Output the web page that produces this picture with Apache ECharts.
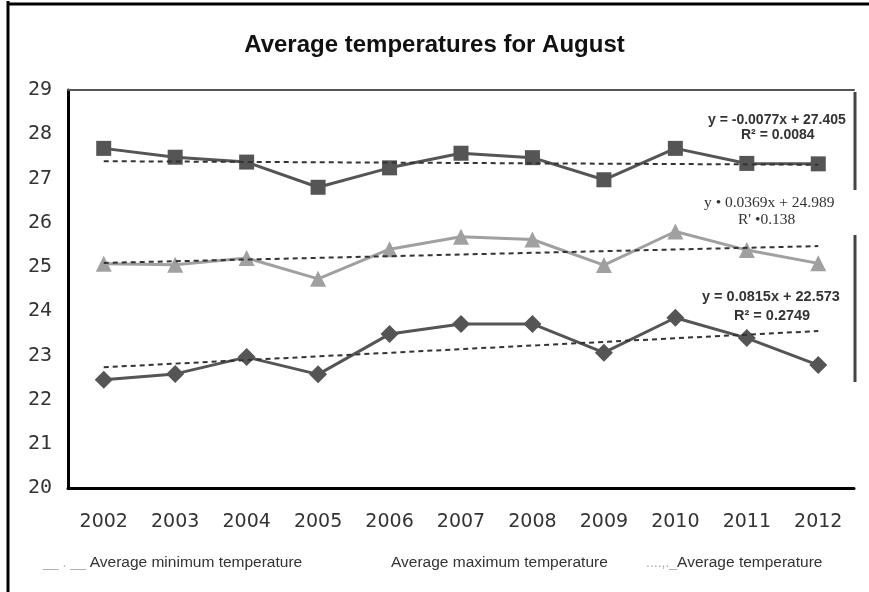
<!DOCTYPE html>
<html>
<head>
<meta charset="utf-8">
<script src="https://cdn.jsdelivr.net/npm/echarts@6/dist/echarts.min.js"></script>
<style>
html,body{margin:0;padding:0;background:#fff;}
#chart{width:869px;height:592px;}
</style>
</head>
<body>
<div id="chart"></div>
<script>
var years = ['2002','2003','2004','2005','2006','2007','2008','2009','2010','2011','2012'];
var maxTemp = [27.68, 27.48, 27.37, 26.80, 27.24, 27.57, 27.47, 26.97, 27.68, 27.34, 27.33];
var avgTemp = [25.07, 25.05, 25.20, 24.73, 25.40, 25.68, 25.62, 25.04, 25.80, 25.38, 25.08];
var minTemp = [22.45, 22.58, 22.96, 22.57, 23.48, 23.71, 23.71, 23.06, 23.85, 23.39, 22.78];
var maxTrend = [27.39, null, null, null, null, null, null, null, null, null, 27.31];
var avgTrend = [25.09, null, null, null, null, null, null, null, null, null, 25.47];
var minTrend = [22.73, null, null, null, null, null, null, null, null, null, 23.55];
var yTicks = {min: 20, max: 29, step: 1};
var names = {
  min: 'Average minimum temperature',
  max: 'Average maximum temperature',
  avg: 'Average temperature'
};
var legendPrefix = {};
legendPrefix[names.min] = '__ . __ ';
legendPrefix[names.max] = '';
legendPrefix[names.avg] = '....,._';
var eqMax = ['y = -0.0077x + 27.405', 'R\u00B2 = 0.0084'];
var eqAvg = ['y \u2022 0.0369x + 24.989', "R' \u20220.138"];
var eqMin = ['y = 0.0815x + 22.573', 'R\u00B2 = 0.2749'];

var chart = echarts.init(document.getElementById('chart'), null, {renderer: 'canvas'});

function legendFmt(n) {
  var p = legendPrefix[n];
  return (p ? '{p|' + p + '}' : '') + '{t|' + n + '}';
}
var legendRich = {
  p: {color: '#aaa', fontSize: 14, fontFamily: 'Liberation Sans'},
  t: {color: '#333', fontSize: 15.5, fontFamily: 'Liberation Sans'}
};
function mkLegend(name, left) {
  return {
    data: [{name: name, icon: 'none'}],
    left: left, top: 555,
    itemWidth: 0, itemHeight: 0, itemGap: 0,
    padding: 0,
    formatter: legendFmt,
    textStyle: {rich: legendRich},
    selectedMode: false
  };
}
var trendStyle = {color: '#333', width: 2, type: [5, 4]};

chart.setOption({
  animation: false,
  backgroundColor: '#fff',
  title: {
    text: 'Average temperatures for August',
    left: 'center', top: 28,
    textStyle: {fontFamily: 'Liberation Sans', fontWeight: 'bold', fontSize: 24, color: '#111'}
  },
  legend: [
    mkLegend(names.min, 38),
    mkLegend(names.max, 386),
    mkLegend(names.avg, 641)
  ],
  grid: {left: 68, right: 15, top: 90, bottom: 104, containLabel: false},
  xAxis: [{
    type: 'category', data: years, boundaryGap: true, position: 'bottom',
    axisLine: {lineStyle: {color: '#000', width: 3}},
    axisTick: {show: false},
    axisLabel: {fontFamily: 'DejaVu Sans', fontSize: 19, color: '#333', margin: 25}
  }, {
    type: 'category', data: years, position: 'top',
    axisLine: {lineStyle: {color: '#555', width: 2}},
    axisTick: {show: false}, axisLabel: {show: false}
  }],
  yAxis: {
    type: 'value', min: yTicks.min, max: yTicks.max, interval: yTicks.step,
    axisLine: {show: true, lineStyle: {color: '#000', width: 3}},
    axisTick: {show: false},
    splitLine: {show: false},
    axisLabel: {fontFamily: 'DejaVu Sans Mono', fontSize: 20, color: '#333', margin: 16}
  },
  series: [
    {name: names.max, type: 'line', data: maxTemp, symbol: 'rect', symbolSize: 15,
     lineStyle: {color: '#555', width: 3}, itemStyle: {color: '#555'}, z: 3},
    {name: names.avg, type: 'line', data: avgTemp, symbol: 'triangle', symbolSize: 16,
     lineStyle: {color: '#a0a0a0', width: 3}, itemStyle: {color: '#a0a0a0'}, z: 3},
    {name: names.min, type: 'line', data: minTemp, symbol: 'diamond', symbolSize: 18,
     lineStyle: {color: '#555', width: 3}, itemStyle: {color: '#555'}, z: 3},
    {name: 'trendMax', type: 'line', data: maxTrend, connectNulls: true, symbol: 'none',
     lineStyle: trendStyle, z: 4},
    {name: 'trendAvg', type: 'line', data: avgTrend, connectNulls: true, symbol: 'none',
     lineStyle: trendStyle, z: 4},
    {name: 'trendMin', type: 'line', data: minTrend, connectNulls: true, symbol: 'none',
     lineStyle: trendStyle, z: 4}
  ],
  graphic: [
    {type: 'line', shape: {x1: 8, y1: 1, x2: 8, y2: 592}, style: {stroke: '#000', lineWidth: 3}},
    {type: 'line', shape: {x1: 7, y1: 4, x2: 869, y2: 4}, style: {stroke: '#000', lineWidth: 3}},
    {type: 'line', shape: {x1: 855, y1: 92, x2: 855, y2: 190}, style: {stroke: '#444', lineWidth: 3}},
    {type: 'line', shape: {x1: 855, y1: 235, x2: 855, y2: 382}, style: {stroke: '#444', lineWidth: 3}},
    {type: 'text', left: 708, top: 113, z: 10, style: {text: eqMax[0], font: 'bold 14px "Liberation Sans"', fill: '#333'}},
    {type: 'text', left: 741, top: 128, z: 10, style: {text: eqMax[1], font: 'bold 14px "Liberation Sans"', fill: '#333'}},
    {type: 'text', left: 704, top: 195, z: 10, style: {text: eqAvg[0], font: '15.5px "Liberation Serif"', fill: '#333'}},
    {type: 'text', left: 738, top: 212, z: 10, style: {text: eqAvg[1], font: '15.5px "Liberation Serif"', fill: '#333'}},
    {type: 'text', left: 702, top: 289, z: 10, style: {text: eqMin[0], font: 'bold 14.5px "Liberation Sans"', fill: '#333'}},
    {type: 'text', left: 734, top: 308, z: 10, style: {text: eqMin[1], font: 'bold 14.5px "Liberation Sans"', fill: '#333'}}
  ]
});
</script>
</body>
</html>
